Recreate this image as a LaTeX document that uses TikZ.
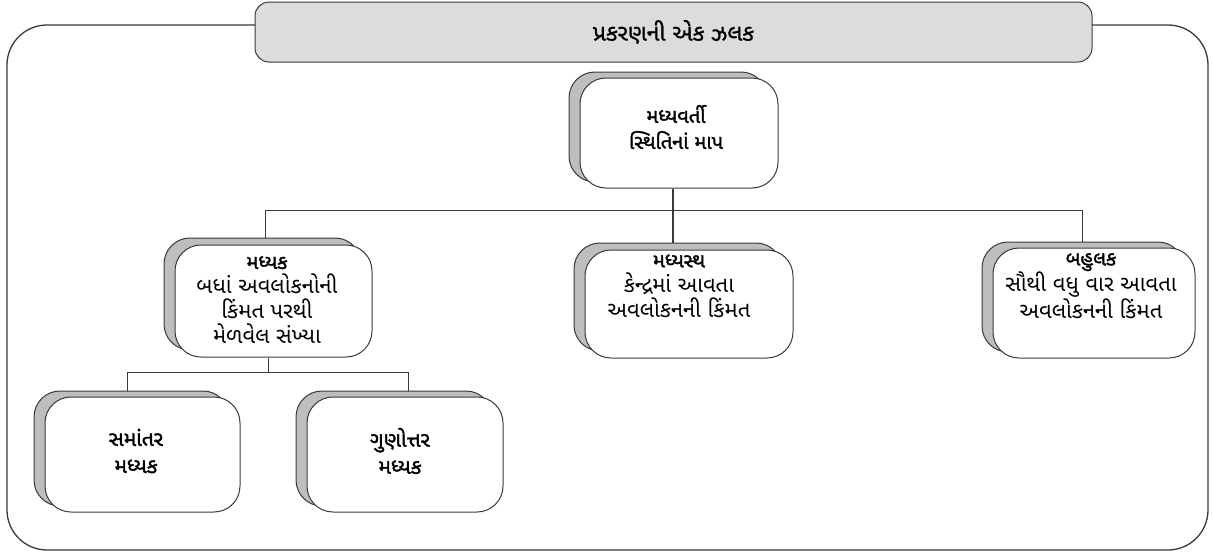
\documentclass[tikz,border=0pt]{standalone}
\usepackage{fontspec}
\newfontfamily\guj[Script=Gujarati]{Noto Sans Gujarati UI}
\newfontfamily\gujb[Script=Gujarati,FakeBold=1.6]{Noto Sans Gujarati UI}
\newfontfamily\gujm[Script=Gujarati,FakeBold=0.8]{Noto Sans Gujarati UI}
\definecolor{linec}{HTML}{3A3A3A}
\definecolor{titlefill}{HTML}{DCDCDC}
\definecolor{shadowfill}{HTML}{BEBEBE}
\tikzset{
  frontbox/.style={draw=linec, line width=1pt, fill=white, rounded corners=26pt, inner sep=0pt},
  shadowbox/.style={draw=linec, line width=1pt, fill=shadowfill, rounded corners=26pt, inner sep=0pt},
  btxt/.style={align=center, inner sep=0pt, font=\guj\fontsize{22}{25}\selectfont},
  conn/.style={draw=linec, line width=1pt},
}
\begin{document}
\begin{tikzpicture}[x=1pt,y=-1pt]
\useasboundingbox (0,0) rectangle (1213,557);
% outer frame
\draw[draw=linec, line width=1.3pt, rounded corners=40pt] (7,25) rectangle (1208,550);
% title
\node[draw=linec, line width=1pt, fill=titlefill, rounded corners=14pt, minimum width=837pt, minimum height=60pt, font=\gujm\fontsize{23}{26}\selectfont] (title) at (673.5,32) {પ્રકરણની એક ઝલક};

% central
\node[shadowbox, minimum width=198pt, minimum height=110pt] (tops) at (668,127) {};
\node[frontbox, minimum width=198pt, minimum height=110pt] (top) at (679,133) {};
\node[btxt, font=\gujb\fontsize{20}{26}\selectfont] (toptxt) at (676,127) {મધ્યવર્તી\\સ્થિતિનાં માપ};

% mean
\node[shadowbox, minimum width=197pt, minimum height=112pt] (means) at (262.5,294) {};
\node[frontbox, minimum width=197pt, minimum height=112pt] (mean) at (273.5,301) {};
\node[btxt] (meantxt) at (267,300) {{\gujb\fontsize{20}{25}\selectfont મધ્યક}\\બધાં અવલોકનોની\\કિંમત પરથી\\મેળવેલ સંખ્યા};

% median
\node[shadowbox, minimum width=208pt, minimum height=108pt] (meds) at (678,297) {};
\node[frontbox, minimum width=208pt, minimum height=108pt] (med) at (689,304) {};
\node[btxt] (medtxt) at (679,286) {{\gujb\fontsize{20}{25}\selectfont મધ્યસ્થ}\\કેન્દ્રમાં આવતા\\અવલોકનની કિંમત};

% mode
\node[shadowbox, minimum width=202pt, minimum height=110pt] (modes) at (1083,297) {};
\node[frontbox, minimum width=202pt, minimum height=110pt] (mode) at (1094,303) {};
\node[btxt] (modetxt) at (1091,286) {{\gujb\fontsize{20}{25}\selectfont બહુલક}\\સૌથી વધુ વાર આવતા\\અવલોકનની કિંમત};

% arithmetic mean
\node[shadowbox, minimum width=195pt, minimum height=115pt] (ams) at (131.5,448.5) {};
\node[frontbox, minimum width=195pt, minimum height=115pt] (am) at (142.5,454.5) {};
\node[btxt, font=\gujb\fontsize{21}{27}\selectfont] (amtxt) at (136,451) {સમાંતર\\મધ્યક};

% geometric mean
\node[shadowbox, minimum width=196pt, minimum height=115pt] (gms) at (394,448.5) {};
\node[frontbox, minimum width=196pt, minimum height=115pt] (gm) at (405,454.5) {};
\node[btxt, font=\gujb\fontsize{21}{27}\selectfont] (gmtxt) at (400,451) {ગુણોત્તર\\મધ્યક};

% connectors
\coordinate (bus) at (673,210);
\coordinate (busl) at (265,210);
\coordinate (busr) at (1082,210);
\draw[conn, line width=1.6pt] (top.south -| bus) -- (bus);
\draw[conn] (busl) -- (busr);
\draw[conn] (busl) -- (busl |- means.north);
\draw[conn, line width=1.6pt] (bus) -- (bus |- meds.north);
\draw[conn] (busr) -- (busr |- modes.north);

\coordinate (bus2) at (268,372);
\coordinate (bus2l) at (127,372);
\coordinate (bus2r) at (408,372);
\draw[conn] (mean.south -| bus2) -- (bus2);
\draw[conn] (bus2l) -- (bus2r);
\draw[conn] (bus2l) -- (bus2l |- ams.north);
\draw[conn] (bus2r) -- (bus2r |- gms.north);
\end{tikzpicture}
\end{document}
